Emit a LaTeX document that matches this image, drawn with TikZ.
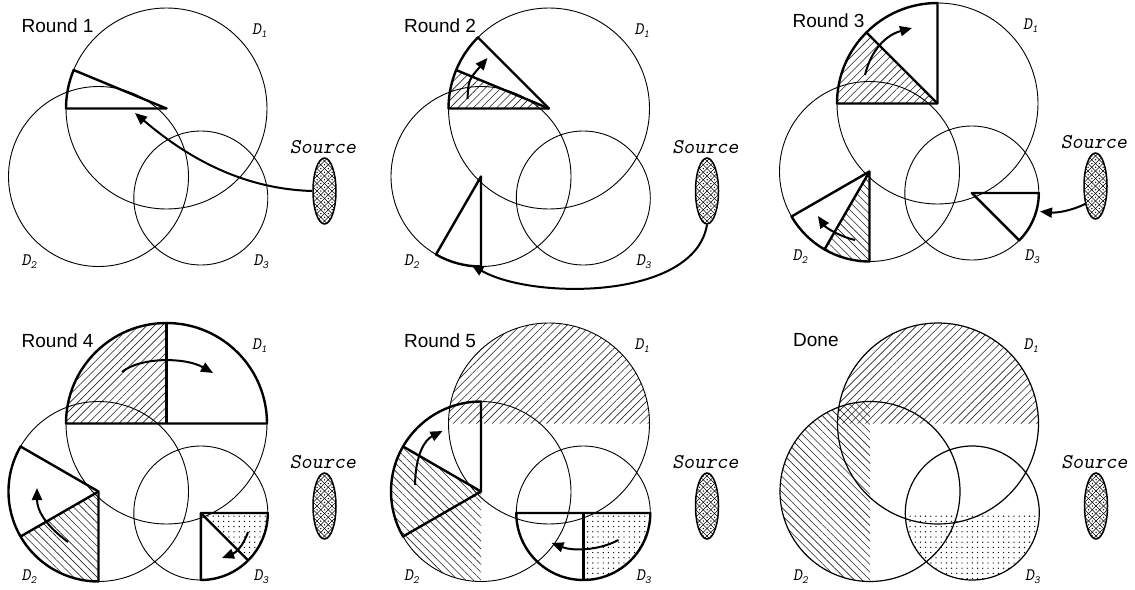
\documentclass[tikz,border=0pt]{standalone}
\usepackage{fontspec}
\setmainfont{Liberation Sans}
\usetikzlibrary{shapes.geometric,arrows.meta,patterns.meta}
\newcommand\dlab[1]{{\ttfamily\slshape\fontsize{17.5}{17.5}\selectfont D\raisebox{-3pt}{\fontsize{11}{11}\selectfont #1}}}
\tikzset{
  thincirc/.style={line width=0.9pt},
  donecirc/.style={line width=1.2pt},
  thk/.style={line width=2.4pt, line join=round},
  arr/.style={line width=2pt, -{Triangle[length=12pt,width=10pt]}},
  hatchA/.style={pattern={Lines[angle=45,distance=5.5pt,line width=0.6pt]}, pattern color=black!85},
  hatchB/.style={pattern={Lines[angle=-45,distance=5.5pt,line width=0.6pt]}, pattern color=black!85},
  dotsP/.style={pattern={Dots[distance=5.2pt,radius=0.7pt]}, pattern color=black},
  roundlbl/.style={anchor=west, inner sep=0pt, font=\fontsize{19}{19}\selectfont},
  dl/.style={inner sep=0pt},
  srclbl/.style={inner sep=0pt, font=\ttfamily\slshape\fontsize{21}{21}\selectfont},
  srcnode/.style={ellipse, draw, line width=1.5pt, minimum width=23pt, minimum height=66pt, inner sep=0pt,
    path picture={
      \foreach \k in {-12,...,12}{
        \draw[line width=0.5pt] ([shift={(\k*7.5-45,-45)}]path picture bounding box.center) -- ++(90,90);
        \draw[line width=0.5pt] ([shift={(\k*7.5-45,45)}]path picture bounding box.center) -- ++(90,-90);
      }
      \foreach \m in {-3,...,3}{\foreach \n in {-6,...,6}{
        \fill ([shift={(\m*7.5+3.75,\n*7.5)}]path picture bounding box.center) circle[radius=0.75pt];
        \fill ([shift={(\m*7.5,\n*7.5+3.75)}]path picture bounding box.center) circle[radius=0.75pt];
      }}
    }},
}
\newcommand\panelcoords[1]{%
  \coordinate (#1c1) at (166.5,108.5);
  \coordinate (#1c2) at (98.5,176.5);
  \coordinate (#1c3) at (200.8,198);
}
\newcommand\panelcircles[2]{%
  \draw[#2] (#1c1) circle[radius=\ra] (#1c2) circle[radius=\rb] (#1c3) circle[radius=\rc];
}
\newcommand\panellabels[2]{%
  \node[roundlbl] (#1title) at (21.5,25.5) {#2};
  \node[dl] (#1d1) at (259.5,30.5) {\dlab{1}};
  \node[dl] (#1d2) at (29,261.5) {\dlab{2}};
  \node[dl] (#1d3) at (261,262) {\dlab{3}};
  \node[srclbl] (#1srclbl) at (323,147) {Source};
  \node[srcnode] (#1src) at (324.5,191) {};
}
\begin{document}
\begin{tikzpicture}[x=1pt,y=-1pt]
\def\ra{100.5}\def\rb{90}\def\rc{67}
\useasboundingbox (0,0) rectangle (1135,589);
\fill[white] (0,0) rectangle (1135,589);

% ---------- Round 1
\begin{scope}
\panelcoords{a}
\panelcircles{a}{thincirc}
\draw[thk] (ac1) -- ++(-157.5:\ra) arc[start angle=-157.5,end angle=-180,radius=\ra] -- cycle;
\panellabels{a}{Round 1}
\coordinate (ah1) at (135,113);
\draw[arr] (asrc.west) .. controls (245,189) and (190,160) .. (ah1);
\end{scope}

% ---------- Round 2
\begin{scope}[shift={(382.5,0)}]
\panelcoords{b}
\path[hatchA] (bc1) -- ++(-157.5:\ra) arc[start angle=-157.5,end angle=-180,radius=\ra] -- cycle;
\panelcircles{b}{thincirc}
\draw[thk] (bc1) -- ++(-135:\ra) arc[start angle=-135,end angle=-180,radius=\ra] -- cycle;
\draw[thk] (bc1) -- ++(-157.5:\ra);
\draw[thk] (bc2) -- ++(-240:\rb) arc[start angle=-240,end angle=-270,radius=\rb] -- cycle;
\panellabels{b}{Round 2}
\coordinate (bt1) at (85,99); \coordinate (bh1) at (105,58);
\draw[arr] (bt1) .. controls (86,80) .. (bh1);
\coordinate (bh2) at (89,265);
\draw[arr] (bsrc.south) .. controls (312,300) and (150,300) .. (bh2);
\end{scope}

% ---------- Round 3
\begin{scope}[shift={(771,-5)}]
\panelcoords{c}
\path[hatchA] (cc1) -- ++(-135:\ra) arc[start angle=-135,end angle=-180,radius=\ra] -- cycle;
\path[hatchB] (cc2) -- ++(-240:\rb) arc[start angle=-240,end angle=-270,radius=\rb] -- cycle;
\panelcircles{c}{thincirc}
\draw[thk] (cc1) -- ++(-90:\ra) arc[start angle=-90,end angle=-180,radius=\ra] -- cycle;
\draw[thk] (cc1) -- ++(-135:\ra);
\draw[thk] (cc2) -- ++(-210:\rb) arc[start angle=-210,end angle=-270,radius=\rb] -- cycle;
\draw[thk] (cc2) -- ++(-240:\rb);
\draw[thk] (cc3) -- ++(0:\rc) arc[start angle=0,end angle=45,radius=\rc] -- cycle;
\panellabels{c}{Round 3}
\coordinate (ct1) at (94,80); \coordinate (ch1) at (141,33);
\draw[arr] (ct1) .. controls (100,55) and (115,40) .. (ch1);
\coordinate (ct2) at (84,245); \coordinate (ch2) at (47,221);
\draw[arr] (ct2) .. controls (70,242) and (55,233) .. (ch2);
\coordinate (ch3) at (269,216.5);
\draw[arr] (csrc.-120) .. controls (300,216) and (285,218) .. (ch3);
\end{scope}

% ---------- Round 4
\begin{scope}[shift={(0,315)}]
\panelcoords{d}
\path[hatchA] (dc1) -- ++(-90:\ra) arc[start angle=-90,end angle=-180,radius=\ra] -- cycle;
\path[hatchB] (dc2) -- ++(-210:\rb) arc[start angle=-210,end angle=-270,radius=\rb] -- cycle;
\path[dotsP] (dc3) -- ++(0:\rc) arc[start angle=0,end angle=45,radius=\rc] -- cycle;
\panelcircles{d}{thincirc}
\draw[thk] (dc1) -- ++(0:\ra) arc[start angle=0,end angle=-180,radius=\ra] -- cycle;
\draw[thk] (dc1) -- ++(-90:\ra);
\draw[thk] (dc2) -- ++(-150:\rb) arc[start angle=-150,end angle=-270,radius=\rb] -- cycle;
\draw[thk] (dc2) -- ++(-210:\rb);
\draw[thk] (dc3) -- ++(0:\rc) arc[start angle=0,end angle=90,radius=\rc] -- cycle;
\draw[thk] (dc3) -- ++(45:\rc);
\panellabels{d}{Round 4}
\coordinate (dt1) at (122,57); \coordinate (dh1) at (213,58);
\draw[arr] (dt1) .. controls (140,42) and (185,42) .. (dh1);
\coordinate (dt2) at (68,227); \coordinate (dh2) at (37,173);
\draw[arr] (dt2) .. controls (45,210) and (37,195) .. (dh2);
\coordinate (dt3) at (248,217); \coordinate (dh3) at (222,243);
\draw[arr] (dt3) .. controls (243,232) and (235,238) .. (dh3);
\end{scope}

% ---------- Round 5
\begin{scope}[shift={(382.5,315)}]
\panelcoords{e}
\path[hatchA] (ec1) -- ++(0:\ra) arc[start angle=0,end angle=-180,radius=\ra] -- cycle;
\path[hatchB] (ec2) -- ++(-150:\rb) arc[start angle=-150,end angle=-270,radius=\rb] -- cycle;
\path[dotsP] (ec3) -- ++(0:\rc) arc[start angle=0,end angle=90,radius=\rc] -- cycle;
\panelcircles{e}{thincirc}
\draw[thk] (ec2) -- ++(-90:\rb) arc[start angle=-90,end angle=-210,radius=\rb] -- cycle;
\draw[thk] (ec2) -- ++(-150:\rb);
\draw[thk] (ec3) -- ++(0:\rc) arc[start angle=0,end angle=180,radius=\rc] -- cycle;
\draw[thk] (ec3) -- ++(90:\rc);
\panellabels{e}{Round 5}
\coordinate (et1) at (32.5,170); \coordinate (eh1) at (60,116);
\draw[arr] (et1) .. controls (33,140) and (42,125) .. (eh1);
\coordinate (et2) at (236,225); \coordinate (eh2) at (169,228);
\draw[arr] (et2) .. controls (215,236) and (190,236) .. (eh2);
\end{scope}

% ---------- Done
\begin{scope}[shift={(771.5,315)}]
\panelcoords{f}
\path[hatchA] (fc1) -- ++(0:\ra) arc[start angle=0,end angle=-180,radius=\ra] -- cycle;
\path[hatchB] (fc2) -- ++(-90:\rb) arc[start angle=-90,end angle=-270,radius=\rb] -- cycle;
\path[dotsP] (fc3) -- ++(0:\rc) arc[start angle=0,end angle=180,radius=\rc] -- cycle;
\panelcircles{f}{donecirc}
\panellabels{f}{Done}
\end{scope}
\end{tikzpicture}
\end{document}
